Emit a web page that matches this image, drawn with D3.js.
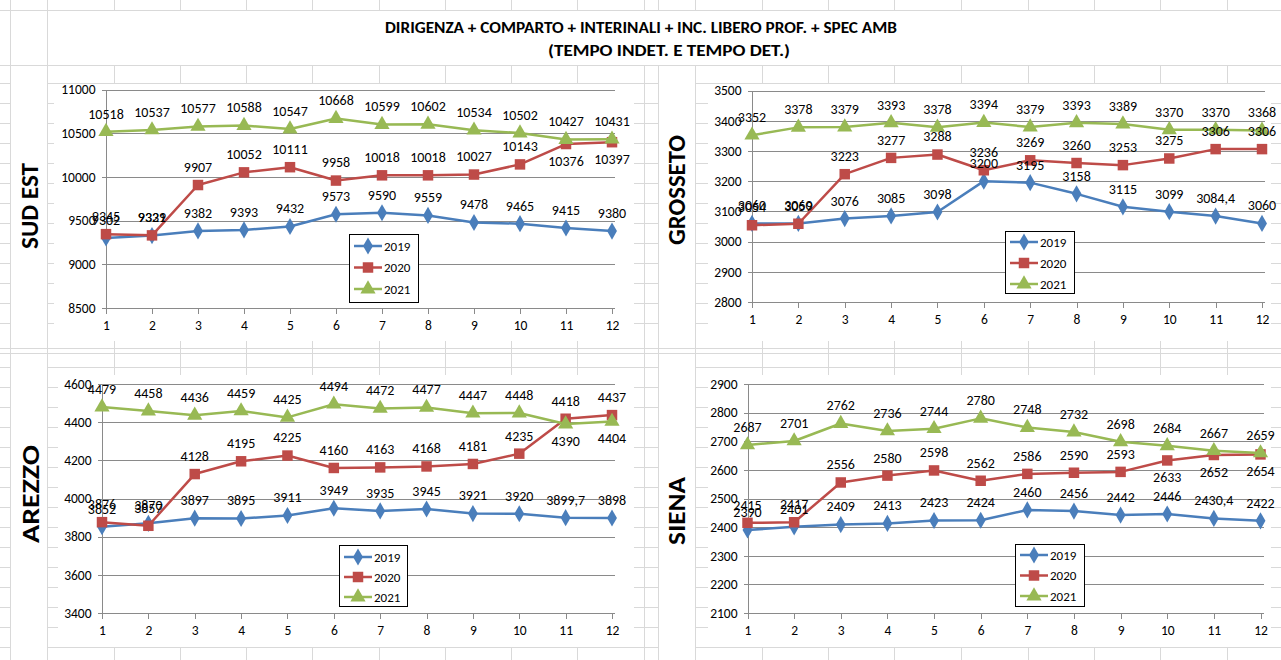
<!DOCTYPE html>
<html>
<head>
<meta charset="utf-8">
<script src="https://cdn.jsdelivr.net/npm/d3@7"></script>
<style>
  html, body { margin: 0; padding: 0; background: #fff; }
  svg { display: block; }
</style>
</head>
<body>
<svg id="chart" width="1281" height="660"></svg>
<script>
// ---- data -------------------------------------------------------------
const months = [1, 2, 3, 4, 5, 6, 7, 8, 9, 10, 11, 12];
const years = ["2019", "2020", "2021"];

const sudEst2019 = [9302, 9329, 9382, 9393, 9432, 9573, 9590, 9559, 9478, 9465, 9415, 9380];
const sudEst2020 = [9345, 9331, 9907, 10052, 10111, 9958, 10018, 10018, 10027, 10143, 10376, 10397];
const sudEst2021 = [10518, 10537, 10577, 10588, 10547, 10668, 10599, 10602, 10534, 10502, 10427, 10431];

const grosseto2019 = [3060, 3060, 3076, 3085, 3098, 3200, 3195, 3158, 3115, 3099, 3084.4, 3060];
const grosseto2020 = [3054, 3059, 3223, 3277, 3288, 3236, 3269, 3260, 3253, 3275, 3306, 3306];
const grosseto2021 = [3352, 3378, 3379, 3393, 3378, 3394, 3379, 3393, 3389, 3370, 3370, 3368];

const arezzo2019 = [3852, 3870, 3897, 3895, 3911, 3949, 3935, 3945, 3921, 3920, 3899.7, 3898];
const arezzo2020 = [3876, 3857, 4128, 4195, 4225, 4160, 4163, 4168, 4181, 4235, 4418, 4437];
const arezzo2021 = [4479, 4458, 4436, 4459, 4425, 4494, 4472, 4477, 4447, 4448, 4390, 4404];

const siena2019 = [2390, 2401, 2409, 2413, 2423, 2424, 2460, 2456, 2442, 2446, 2430.4, 2422];
const siena2020 = [2415, 2417, 2556, 2580, 2598, 2562, 2586, 2590, 2593, 2633, 2652, 2654];
const siena2021 = [2687, 2701, 2762, 2736, 2744, 2780, 2748, 2732, 2698, 2684, 2667, 2659];

const ticksSudEst = [8500, 9000, 9500, 10000, 10500, 11000];
const ticksGrosseto = [2800, 2900, 3000, 3100, 3200, 3300, 3400, 3500];
const ticksArezzo = [3400, 3600, 3800, 4000, 4200, 4400, 4600];
const ticksSiena = [2100, 2200, 2300, 2400, 2500, 2600, 2700, 2800, 2900];

const titleLines = [
  "DIRIGENZA + COMPARTO + INTERINALI + INC. LIBERO PROF. + SPEC AMB",
  "(TEMPO INDET. E TEMPO DET.)"
];
const areaNames = ["SUD EST", "GROSSETO", "AREZZO", "SIENA"];

// ---- styling ----------------------------------------------------------
const FONT = "Carlito, Calibri, 'Liberation Sans', Arial, sans-serif";
const colors = ["#4A7EBB", "#BE4B48", "#98B954"];
const markerTypes = [d3.symbolDiamond, d3.symbolSquare, d3.symbolTriangle];
const markerSizes = [85, 110, 100];
const cellLine = "#d9d9d9";
const gridGray = "#8a8a8a";

// Italian number format: decimal comma, no grouping
const fmt = v => String(v).replace(".", ",");

const svg = d3.select("#chart");
svg.append("rect").attr("width", 1281).attr("height", 660).attr("fill", "#fff");

// ---- worksheet background cells --------------------------------------
const sheet = svg.append("g").attr("shape-rendering", "crispEdges");
const colLines = [10, 47, 114, 180, 246, 312, 379, 445, 511, 577, 644, 658, 695, 762, 828, 894, 961, 1028, 1094, 1160, 1227];
const rowLines = [10, 65].concat(d3.range(83, 340, 20), [348, 353], d3.range(367, 660, 20));
sheet.selectAll(".c").data(colLines).join("line")
  .attr("x1", d => d + 0.5).attr("x2", d => d + 0.5).attr("y1", 0).attr("y2", 660)
  .attr("stroke", cellLine);
sheet.selectAll(".r").data(rowLines).join("line")
  .attr("x1", 0).attr("x2", 1281).attr("y1", d => d + 0.5).attr("y2", d => d + 0.5)
  .attr("stroke", cellLine);

// merged cells: title block and the area-name cells
const merged = [
  {x: 48, y: 11, w: 1233, h: 54},
  {x: 11, y: 66, w: 36, h: 282},
  {x: 11, y: 354, w: 36, h: 306},
  {x: 659, y: 66, w: 36, h: 282},
  {x: 659, y: 354, w: 36, h: 306}
];
sheet.selectAll(".m").data(merged).join("rect")
  .attr("x", d => d.x).attr("y", d => d.y).attr("width", d => d.w).attr("height", d => d.h)
  .attr("fill", "#fff");

// title
const titleFmt = [
  {cx: 641, y: 33, len: 512},
  {cx: 669, y: 56, len: 242}
];
titleLines.forEach((t, i) => {
  svg.append("text")
    .attr("x", titleFmt[i].cx).attr("y", titleFmt[i].y)
    .attr("text-anchor", "middle")
    .attr("textLength", titleFmt[i].len)
    .attr("lengthAdjust", "spacingAndGlyphs")
    .style("font-family", FONT).style("font-weight", "bold").style("font-size", "16px")
    .text(t);
});

// ---- panels -----------------------------------------------------------
const panels = [
  {
    name: areaNames[0], series: [sudEst2019, sudEst2020, sudEst2021], ticks: ticksSudEst,
    area: {x: 54, y: 84, w: 580, h: 257},
    xr: [106, 612], yr: [308, 89.5],
    legend: {x: 349, y: 234, w: 69, h: 68, first: 12, step: 21.5},
    label: {x: 30, y: 206, len: 86}
  },
  {
    name: areaNames[1], series: [grosseto2019, grosseto2020, grosseto2021], ticks: ticksGrosseto,
    area: {x: 708, y: 84, w: 563, h: 257},
    xr: [752, 1262], yr: [302, 90.5],
    legend: {x: 1005, y: 231, w: 69, h: 62, first: 11, step: 21},
    label: {x: 677, y: 190, len: 110}
  },
  {
    name: areaNames[2], series: [arezzo2019, arezzo2020, arezzo2021], ticks: ticksArezzo,
    area: {x: 58, y: 375, w: 576, h: 272},
    xr: [102, 612], yr: [613, 384],
    legend: {x: 339, y: 545, w: 68, h: 61, first: 12, step: 20},
    label: {x: 31, y: 494, len: 98}
  },
  {
    name: areaNames[3], series: [siena2019, siena2020, siena2021], ticks: ticksSiena,
    area: {x: 708, y: 375, w: 563, h: 272},
    xr: [747.5, 1260.5], yr: [613, 384],
    legend: {x: 1015, y: 544, w: 69, h: 62, first: 11, step: 20.5},
    label: {x: 677, y: 511, len: 68}
  }
];

panels.forEach(p => {
  // vertical area name in its merged cell
  svg.append("text")
    .attr("transform", `translate(${p.label.x + 8},${p.label.y}) rotate(-90)`)
    .attr("text-anchor", "middle")
    .attr("textLength", p.label.len)
    .attr("lengthAdjust", "spacingAndGlyphs")
    .style("font-family", FONT).style("font-weight", "bold").style("font-size", "24px")
    .text(p.name);

  const g = svg.append("g");
  // chart area
  g.append("rect")
    .attr("x", p.area.x).attr("y", p.area.y).attr("width", p.area.w).attr("height", p.area.h)
    .attr("fill", "#fff");

  const x = d3.scalePoint().domain(months).range(p.xr);
  const y = d3.scaleLinear().domain(d3.extent(p.ticks)).range(p.yr);

  // horizontal gridlines
  g.append("g").attr("shape-rendering", "crispEdges")
    .selectAll("line").data(p.ticks.slice(1)).join("line")
    .attr("x1", p.xr[0]).attr("x2", p.xr[1] + 3)
    .attr("y1", d => Math.round(y(d)) + 0.5).attr("y2", d => Math.round(y(d)) + 0.5)
    .attr("stroke", gridGray).attr("stroke-width", 1);

  // y axis
  const yAxis = g.append("g")
    .attr("transform", `translate(${Math.round(p.xr[0]) + 0.5},0)`)
    .call(d3.axisLeft(y).tickValues(p.ticks).tickSize(5).tickPadding(6).tickFormat(fmt));
  // x axis
  const xAxis = g.append("g")
    .attr("transform", `translate(0,${Math.round(p.yr[0]) + 0.5})`)
    .call(d3.axisBottom(x).tickSize(5).tickPadding(7).tickSizeOuter(0));
  [yAxis, xAxis].forEach(a => {
    a.select(".domain").attr("stroke", gridGray).attr("shape-rendering", "crispEdges");
    a.selectAll(".tick line").attr("stroke", gridGray).attr("shape-rendering", "crispEdges");
    a.selectAll("text").attr("fill", "#000")
      .style("font-family", FONT).style("font-size", "13.5px");
  });
  yAxis.select(".domain").attr("d", `M0,${Math.round(p.yr[0])}V${Math.round(p.yr[1])}`);
  xAxis.select(".domain").attr("d", `M${p.xr[0]},0H${p.xr[1] + 3}`);

  // series lines + markers
  const line = d3.line().x((d, i) => x(months[i])).y(d => y(d));
  p.series.forEach((vals, si) => {
    g.append("path").datum(vals)
      .attr("d", line)
      .attr("fill", "none").attr("stroke", colors[si]).attr("stroke-width", 2.5)
      .attr("stroke-linejoin", "round");
    g.append("g").selectAll("path").data(vals).join("path")
      .attr("transform", (d, i) => `translate(${x(months[i])},${y(d)})`)
      .attr("d", d3.symbol().type(markerTypes[si]).size(markerSizes[si]))
      .attr("fill", colors[si]);
  });

  // data labels: above the point; when the 2020 and 2021 points nearly touch,
  // the lower of the two gets its label underneath
  const labels = g.append("g")
    .style("font-family", FONT).style("font-size", "14px").attr("fill", "#000");
  p.series.forEach((vals, si) => {
    vals.forEach((v, i) => {
      const py = y(v);
      let below = false;
      if (si === 1 || si === 2) {
        const other = p.series[si === 1 ? 2 : 1][i];
        const oy = y(other);
        if (Math.abs(py - oy) < 17 && py > oy) below = true;
      }
      labels.append("text")
        .attr("x", x(months[i]))
        .attr("y", below ? py + 17 : py - 18)
        .attr("dy", "0.35em")
        .attr("text-anchor", "middle")
        .text(fmt(v));
    });
  });

  // legend
  const L = p.legend;
  const lg = g.append("g");
  lg.append("rect")
    .attr("x", L.x + 0.5).attr("y", L.y + 0.5).attr("width", L.w).attr("height", L.h)
    .attr("fill", "#fff").attr("stroke", "#000").attr("stroke-width", 1)
    .attr("shape-rendering", "crispEdges");
  years.forEach((yr, si) => {
    const cy = L.y + L.first + si * L.step;
    lg.append("line")
      .attr("x1", L.x + 5).attr("x2", L.x + 33).attr("y1", cy).attr("y2", cy)
      .attr("stroke", colors[si]).attr("stroke-width", 2.5);
    lg.append("path")
      .attr("transform", `translate(${L.x + 19},${cy})`)
      .attr("d", d3.symbol().type(markerTypes[si]).size(markerSizes[si]))
      .attr("fill", colors[si]);
    lg.append("text")
      .attr("x", L.x + 35).attr("y", cy).attr("dy", "0.35em")
      .style("font-family", FONT).style("font-size", "13px")
      .text(yr);
  });
});
</script>
</body>
</html>
